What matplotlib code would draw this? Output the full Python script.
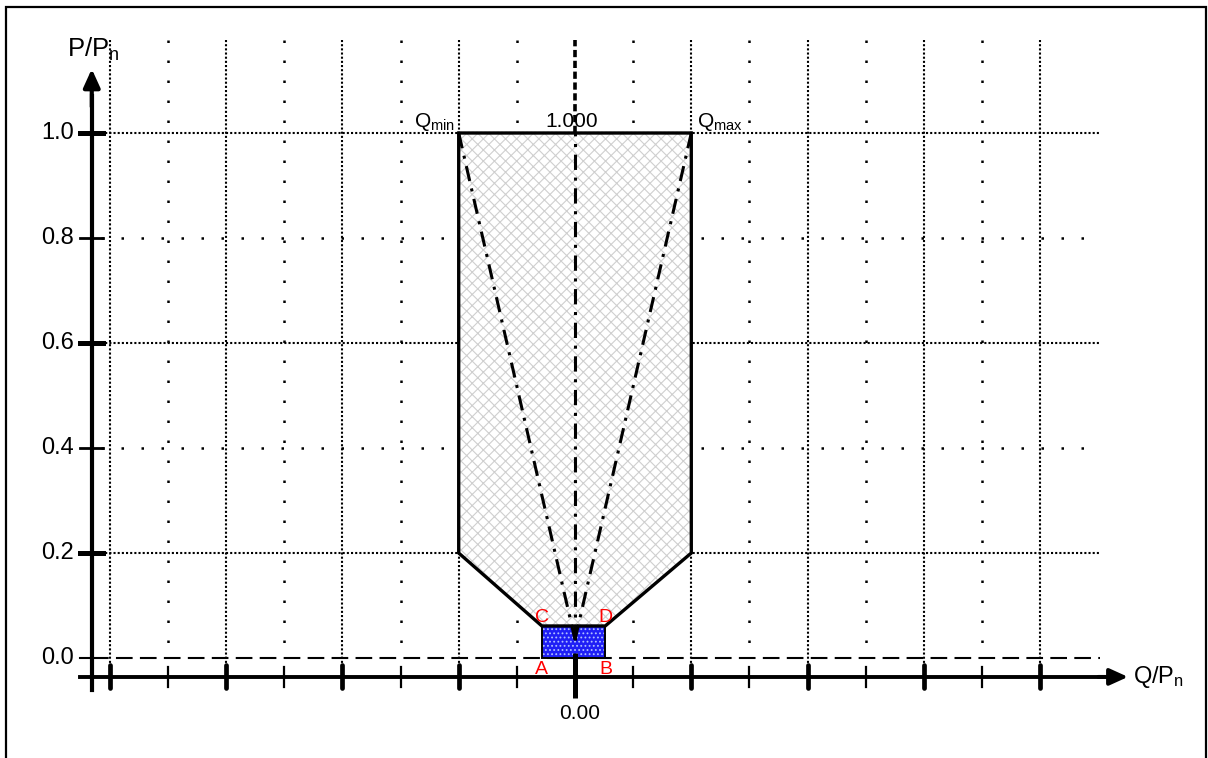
import matplotlib

matplotlib.use("Agg")
import matplotlib.pyplot as plt
from matplotlib.patches import Polygon, Rectangle

plt.rcParams["font.family"] = ["Liberation Sans", "DejaVu Sans"]
plt.rcParams["mathtext.fontset"] = "custom"
plt.rcParams["mathtext.rm"] = "Liberation Sans"
plt.rcParams["mathtext.it"] = "Liberation Sans:italic"
plt.rcParams["hatch.linewidth"] = 0.8

# --- data -------------------------------------------------------------
y_ticks = [0.0, 0.2, 0.4, 0.6, 0.8, 1.0]
y_tick_labels = ["0.0", "0.2", "0.4", "0.6", "0.8", "1.0"]
y_dense_grid = [0.2, 0.6, 1.0]
y_sparse_grid = [0.4, 0.8]
x_major = [-0.8, -0.6, -0.4, -0.2, 0.2, 0.4, 0.6, 0.8]
x_minor = [-0.7, -0.5, -0.3, -0.1, 0.1, 0.3, 0.5, 0.7]

q_min, q_max = -0.2, 0.2
p_max = 1.0
p_knee = 0.2
q_a, q_b = -0.057, 0.052
p_c = 0.061
pf_origin = 0.035

# --- figure -------------------------------------------------------------
fig = plt.figure(figsize=(12.08, 7.58), dpi=100)
ax = fig.add_axes([0, 0, 1, 1])
ax.set_xlim(-575 / 581.5, 633 / 581.5)
ax.set_ylim(-100 / 525, 658 / 525)
ax.axis("off")

# frame round the picture (bottom edge falls outside)
fig.add_artist(Rectangle((6 / 1208, -0.05), 1200 / 1208, 1.05 - 7 / 758,
                         transform=fig.transFigure, fill=False,
                         edgecolor="black", linewidth=1.6))

# grid
grid_top, grid_bottom = 1.177, -0.02
dense = (0, (1, 1))
sparse = (0, (1, 7))
for x in x_major:
    ax.plot([x, x], [grid_top, grid_bottom], color="black", lw=1.5,
            linestyle=dense, zorder=1)
for x in x_minor:
    ax.plot([x, x], [grid_top, 0.015], color="black", lw=1.8,
            linestyle=sparse, zorder=1)
for y in y_dense_grid:
    ax.plot([-0.815, 0.903], [y, y], color="black", lw=1.5,
            linestyle=dense, zorder=1)
for y in y_sparse_grid:
    ax.plot([-0.815, 0.903], [y, y], color="black", lw=1.8,
            linestyle=sparse, zorder=1)
ax.plot([-0.83, 0.903], [0, 0], color="black", lw=1.5,
        linestyle=(0, (8, 3.5)), zorder=1)

# operating area
outline = [(q_min, p_max), (q_max, p_max), (q_max, p_knee),
           (q_b, p_c), (q_a, p_c), (q_min, p_knee)]
ax.add_patch(Polygon(outline, closed=True, facecolor="white",
                     edgecolor="#cfcfcf", hatch="xxx", lw=0, zorder=2))
ax.add_patch(Polygon(outline, closed=True, fill=False,
                     edgecolor="black", lw=2.4, zorder=4))

# small blue region A-B-D-C
ax.add_patch(Rectangle((q_a, 0), q_b - q_a, p_c, facecolor="#1f1ff5",
                       edgecolor="#b0c0ff", hatch="....", lw=0, zorder=3))
ax.add_patch(Rectangle((q_a, 0), q_b - q_a, p_c, fill=False,
                       edgecolor="black", lw=1.4, zorder=4))

# power factor lines
for q in (q_min, q_max):
    ax.plot([0, q], [pf_origin, p_max], color="black", lw=2.2,
            linestyle=(0, (5, 2.5, 1, 2.5)), zorder=3)
ax.plot([0, 0], [pf_origin, p_max], color="black", lw=2.2,
        linestyle=(0, (5, 2.5, 1, 2.5)), zorder=3)
ax.plot([0, 0], [p_max, 1.177], color="black", lw=2.6,
        linestyle=(0, (2, 1)), zorder=3)
ax.plot([0, 0], [0.01, -0.076], color="black", lw=3.6,
        solid_capstyle="butt", zorder=5)

# axes with arrows
x_axis_y = -0.036
y_axis_x = -0.831
arrow_style = "-|>,head_length=1.1,head_width=0.5"
ax.plot([-0.851, 0.92], [x_axis_y, x_axis_y], color="black", lw=2.8, zorder=5)
ax.annotate("", xy=(0.951, x_axis_y), xytext=(0.90, x_axis_y),
            arrowprops=dict(arrowstyle=arrow_style, color="black", lw=2.8,
                            shrinkA=0, shrinkB=0), zorder=5)
ax.plot([y_axis_x, y_axis_x], [-0.061, 1.07], color="black", lw=3.0, zorder=5)
ax.annotate("", xy=(y_axis_x, 1.122), xytext=(y_axis_x, 1.05),
            arrowprops=dict(arrowstyle=arrow_style, color="black", lw=3.0,
                            shrinkA=0, shrinkB=0), zorder=5)

# x ticks
for x in x_major:
    ax.plot([x, x], [-0.014, -0.058], color="black", lw=3.4,
            solid_capstyle="round", zorder=5)
for x in x_minor:
    ax.plot([x, x], [-0.017, -0.055], color="black", lw=1.6, zorder=5)

# y ticks and labels
for y, lab in zip(y_ticks, y_tick_labels):
    if y == 0.0:
        ax.plot([-0.852, -0.831], [y, y], color="black", lw=1.5, zorder=5)
    else:
        thick = y in y_dense_grid
        ax.plot([-0.852, -0.812], [y, y], color="black",
                lw=3.6 if thick else 2.0, zorder=5)
    ax.text(-0.862, y, lab, ha="right", va="center", fontsize=17)

# labels
ax.text(-0.874, 1.145, r"P/P$_\mathrm{n}$", ha="left", va="baseline",
        fontsize=18.5)
ax.text(0.96, x_axis_y, r"Q/P$_\mathrm{n}$", ha="left", va="center",
        fontsize=17)
ax.text(-0.207, 1.011, r"Q$_\mathrm{min}$", ha="right", va="baseline",
        fontsize=15)
ax.text(0.209, 1.011, r"Q$_\mathrm{max}$", ha="left", va="baseline",
        fontsize=15)
ax.text(-0.005, 1.011, "1.000", ha="center", va="baseline", fontsize=15)
ax.text(0.008, -0.087, "0.00", ha="center", va="top", fontsize=15)

for lab, x, y in (("A", q_a, -0.021), ("B", 0.053, -0.021),
                  ("C", q_a, 0.078), ("D", 0.053, 0.078)):
    ax.text(x, y, lab, color="red", ha="center", va="center", fontsize=14,
            zorder=6)

fig.savefig("out.png", dpi=100)
